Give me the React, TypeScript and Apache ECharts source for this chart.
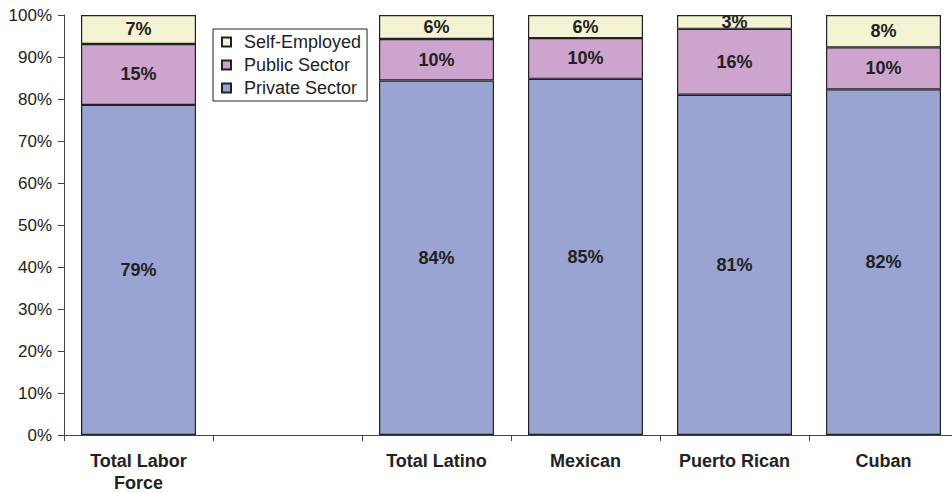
import React, { useEffect, useRef } from "react";
import * as echarts from "echarts";

const categories = ["Total Labor\nForce", "", "Total Latino", "Mexican", "Puerto Rican", "Cuban"];
const privateSector = [78.6, null, 84.4, 84.8, 81.0, 82.3];
const publicSector = [14.5, null, 9.9, 9.7, 15.7, 10.0];
const selfEmployed = [6.9, null, 5.7, 5.5, 3.3, 7.7];
const yTicks = [0, 10, 20, 30, 40, 50, 60, 70, 80, 90, 100];

const FONT = "'Liberation Sans', Arial, sans-serif";

export default function App() {
  const ref = useRef<HTMLDivElement>(null);
  useEffect(() => {
    if (!ref.current) return;
    const chart = echarts.init(ref.current, undefined, { renderer: "svg" });
    const label = {
      show: true,
      position: "inside",
      fontFamily: FONT,
      fontSize: 18,
      fontWeight: "bold",
      color: "#222",
      formatter: (p: any) => (p.value == null ? "" : Math.round(p.value) + "%"),
    };
    const mk = (name: string, data: any[], color: string) => ({
      name,
      type: "bar",
      stack: "total",
      data,
      barWidth: 115,
      itemStyle: { color, borderColor: "#222", borderWidth: 1.2 },
      label,
    });
    chart.setOption({
      animation: false,
      grid: { left: 64, top: 15, bottom: 58, width: 894, outerBoundsMode: "none", containLabel: false },
      legend: {
        left: 213,
        top: 29,
        orient: "vertical",
        data: ["Self-Employed", "Public Sector", "Private Sector"],
        icon: "rect",
        itemWidth: 9,
        itemHeight: 9,
        itemGap: 5,
        padding: [4, 6, 4, 8],
        borderColor: "#222",
        borderWidth: 1,
        borderRadius: 0,
        backgroundColor: "#fff",
        textStyle: { fontFamily: FONT, fontSize: 18, color: "#222", padding: [0, 0, 0, 8] },
      },
      xAxis: {
        type: "category",
        data: categories,
        axisLine: { lineStyle: { color: "#444", width: 1 } },
        axisTick: { show: true, length: 6, lineStyle: { color: "#444" } },
        axisLabel: {
          interval: 0,
          fontFamily: FONT,
          fontSize: 18,
          fontWeight: "bold",
          color: "#222",
          margin: 15,
          lineHeight: 22,
        },
      },
      yAxis: {
        type: "value",
        min: 0,
        max: 100,
        interval: 10,
        splitLine: { show: false },
        axisLine: { show: true, lineStyle: { color: "#444", width: 1 } },
        axisTick: { show: true, length: 6, lineStyle: { color: "#444" } },
        axisLabel: {
          fontFamily: FONT,
          fontSize: 17,
          color: "#222",
          margin: 12,
          formatter: (v: number) => (yTicks.includes(v) ? v + "%" : ""),
        },
      },
      series: [
        mk("Private Sector", privateSector, "#99A4D2"),
        mk("Public Sector", publicSector, "#CDA4CD"),
        mk("Self-Employed", selfEmployed, "#F4F3D3"),
      ],
    });
    return () => chart.dispose();
  }, []);
  return <div ref={ref} style={{ width: 952, height: 493, position: "absolute", left: 0, top: 0 }} />;
}
